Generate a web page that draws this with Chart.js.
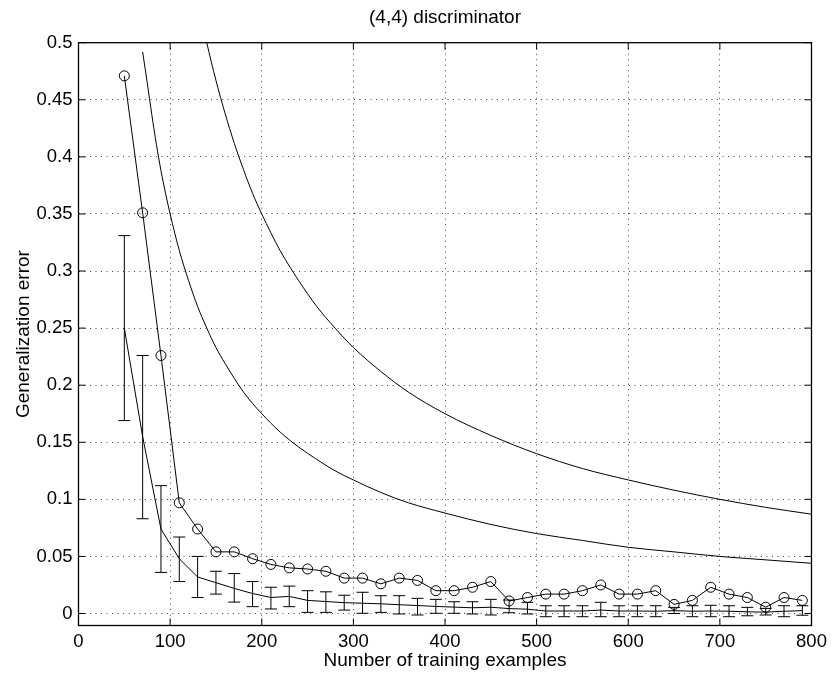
<!DOCTYPE html>
<html><head><meta charset="utf-8">
<script src="https://cdn.jsdelivr.net/npm/chart.js@4/dist/chart.umd.min.js"></script>
<style>html,body{margin:0;padding:0;background:#fff;}#wrap{width:833px;height:677px;}</style>
</head><body><div id="wrap"><canvas id="c" width="833" height="677"></canvas></div>
<script>
// ---- data ----
const sampleX = [50,70,90,110,130,150,170,190,210,230,250,270,290,310,330,350,370,390,410,430,450,470,490,510,530,550,570,590,610,630,650,670,690,710,730,750,770,790];
const testError = [0.471,0.351,0.226,0.097,0.074,0.054,0.054,0.048,0.043,0.040,0.039,0.037,0.031,0.031,0.026,0.031,0.029,0.020,0.020,0.023,0.028,0.011,0.014,0.017,0.017,0.020,0.025,0.017,0.017,0.020,0.008,0.0115,0.023,0.017,0.014,0.0055,0.014,0.0115];
const meanError = [0.250,0.155,0.074,0.048,0.032,0.027,0.022,0.0175,0.014,0.015,0.0115,0.0105,0.0095,0.009,0.0085,0.0077,0.007,0.0062,0.0056,0.005,0.0055,0.0043,0.0038,0.0022,0.0022,0.0022,0.003,0.0022,0.0022,0.002,0.0025,0.002,0.0022,0.002,0.0015,0.0012,0.002,0.0025];
const errHigh = [0.331,0.226,0.112,0.067,0.050,0.037,0.035,0.028,0.023,0.024,0.020,0.019,0.016,0.0186,0.0156,0.0156,0.0133,0.0124,0.0103,0.0103,0.0124,0.0118,0.0098,0.0068,0.0068,0.0068,0.0098,0.0068,0.0068,0.0068,0.0054,0.0068,0.0072,0.0068,0.0054,0.0045,0.0068,0.0068];
const errLow = [0.169,0.083,0.036,0.028,0.014,0.017,0.010,0.006,0.004,0.006,0.001,0.001,0.003,0.0002,0.001,-0.0004,-0.0013,0.0002,0.0002,-0.0004,-0.0013,0.0007,-0.0004,-0.0028,-0.0028,-0.0028,-0.0028,-0.0028,-0.0028,-0.0028,0.0,-0.0028,-0.0028,-0.0028,-0.002,-0.0013,-0.0028,-0.0015];
const boundAX = [70,75,80,85,90,95,100,110,120,130,140,150,160,170,180,190,200,220,240,260,280,300,330,360,400,450,500,550,600,650,700,750,800];
const boundAY = [0.492,0.465,0.437,0.411,0.388,0.368,0.350,0.318,0.292,0.269,0.250,0.233,0.219,0.206,0.194,0.184,0.175,0.159,0.146,0.135,0.125,0.117,0.106,0.097,0.088,0.078,0.070,0.064,0.058,0.054,0.050,0.047,0.044];
const boundBX = [130,140,150,160,170,180,190,200,220,240,260,280,300,330,360,400,450,500,550,600,650,700,750,800];
const boundBY = [0.538,0.500,0.467,0.438,0.412,0.389,0.368,0.350,0.318,0.292,0.269,0.250,0.233,0.212,0.194,0.175,0.156,0.140,0.127,0.117,0.108,0.100,0.093,0.087];
const xTicks = [0,100,200,300,400,500,600,700,800];
const yTicks = [0,0.05,0.1,0.15,0.2,0.25,0.3,0.35,0.4,0.45,0.5];
const titleText = '(4,4) discriminator';
const xTitle = 'Number of training examples';
const yTitle = 'Generalization error';

const FONT = "'Liberation Sans', Arial, Helvetica, sans-serif";
const pts = (xs, ys) => xs.map((x, i) => ({x, y: ys[i]}));

const errorBarPlugin = {
  id: 'errorBars',
  afterDatasetsDraw(chart) {
    const {ctx, chartArea: a, scales: {x, y}} = chart;
    ctx.save();
    ctx.beginPath();
    ctx.rect(a.left, a.top, a.right - a.left, a.bottom - a.top);
    ctx.clip();
    ctx.strokeStyle = '#000';
    ctx.lineWidth = 1;
    const cap = 6;
    for (let i = 0; i < sampleX.length; i++) {
      const px = x.getPixelForValue(sampleX[i]);
      const hi = y.getPixelForValue(errHigh[i]);
      const lo = y.getPixelForValue(errLow[i]);
      ctx.beginPath();
      ctx.moveTo(px, hi); ctx.lineTo(px, lo);
      ctx.moveTo(px - cap, hi); ctx.lineTo(px + cap, hi);
      ctx.moveTo(px - cap, lo); ctx.lineTo(px + cap, lo);
      ctx.stroke();
    }
    ctx.restore();
  }
};

const framePlugin = {
  id: 'frame',
  afterDraw(chart) {
    const {ctx, chartArea: a, scales: {x, y}} = chart;
    ctx.save();
    ctx.strokeStyle = '#000';
    ctx.lineWidth = 1.3;
    ctx.strokeRect(a.left, a.top, a.right - a.left, a.bottom - a.top);
    ctx.lineWidth = 1;
    const L = 7;
    ctx.beginPath();
    xTicks.forEach(v => {
      const px = x.getPixelForValue(v);
      ctx.moveTo(px, a.bottom); ctx.lineTo(px, a.bottom - L);
      ctx.moveTo(px, a.top); ctx.lineTo(px, a.top + L);
    });
    yTicks.forEach(v => {
      const py = y.getPixelForValue(v);
      ctx.moveTo(a.left, py); ctx.lineTo(a.left + L, py);
      ctx.moveTo(a.right, py); ctx.lineTo(a.right - L, py);
    });
    ctx.stroke();
    // title centred over the axes
    ctx.fillStyle = '#000';
    ctx.font = "19px " + FONT;
    ctx.textAlign = 'center';
    ctx.textBaseline = 'middle';
    ctx.fillText(titleText, (a.left + a.right) / 2, 17.5);
    ctx.restore();
  }
};

const lineStyle = {borderColor: '#000', borderWidth: 1, pointRadius: 0, fill: false};

new Chart(document.getElementById('c'), {
  type: 'line',
  data: {
    datasets: [
      Object.assign({label: 'bound 2', data: pts(boundBX, boundBY), cubicInterpolationMode: 'monotone'}, lineStyle),
      Object.assign({label: 'bound 1', data: pts(boundAX, boundAY), cubicInterpolationMode: 'monotone'}, lineStyle),
      Object.assign({}, lineStyle, {label: 'test', data: pts(sampleX, testError), pointRadius: 5, pointStyle: 'circle',
        pointBorderColor: '#000', pointBackgroundColor: 'rgba(0,0,0,0)', pointBorderWidth: 1, tension: 0}),
      Object.assign({label: 'mean', data: pts(sampleX, meanError), tension: 0}, lineStyle)
    ]
  },
  options: {
    responsive: false,
    animation: false,
    devicePixelRatio: 1,
    layout: {padding: {left: 0, right: 21.5, top: 42.7, bottom: 0}},
    plugins: {
      legend: {display: false},
      tooltip: {enabled: false},
      title: {display: false}
    },
    scales: {
      x: {
        type: 'linear', min: 0, max: 800,
        afterBuildTicks: s => { s.ticks = xTicks.map(v => ({value: v})); },
        afterFit: s => { s.height = 51.5; },
        ticks: {color: '#000', font: {family: FONT, size: 18.5}, padding: 5, maxRotation: 0,
          callback: v => String(v)},
        grid: {drawTicks: false, color: '#444', lineWidth: 1},
        border: {display: false, dash: [1, 4.5]},
        title: {display: true, text: xTitle, color: '#000', font: {family: FONT, size: 19}, padding: {top: 0, bottom: 5}}
      },
      y: {
        type: 'linear', min: -0.0105, max: 0.5,
        afterBuildTicks: s => { s.ticks = yTicks.map(v => ({value: v})); },
        afterFit: s => { s.width = 78.5; },
        ticks: {color: '#000', font: {family: FONT, size: 18.5}, padding: 6,
          callback: v => String(v)},
        grid: {drawTicks: false, color: '#444', lineWidth: 1},
        border: {display: false, dash: [1, 4.5]},
        title: {display: true, text: yTitle, color: '#000', font: {family: FONT, size: 19}, padding: {top: 12, bottom: 0}}
      }
    }
  },
  plugins: [errorBarPlugin, framePlugin]
});
</script>
</body></html>
